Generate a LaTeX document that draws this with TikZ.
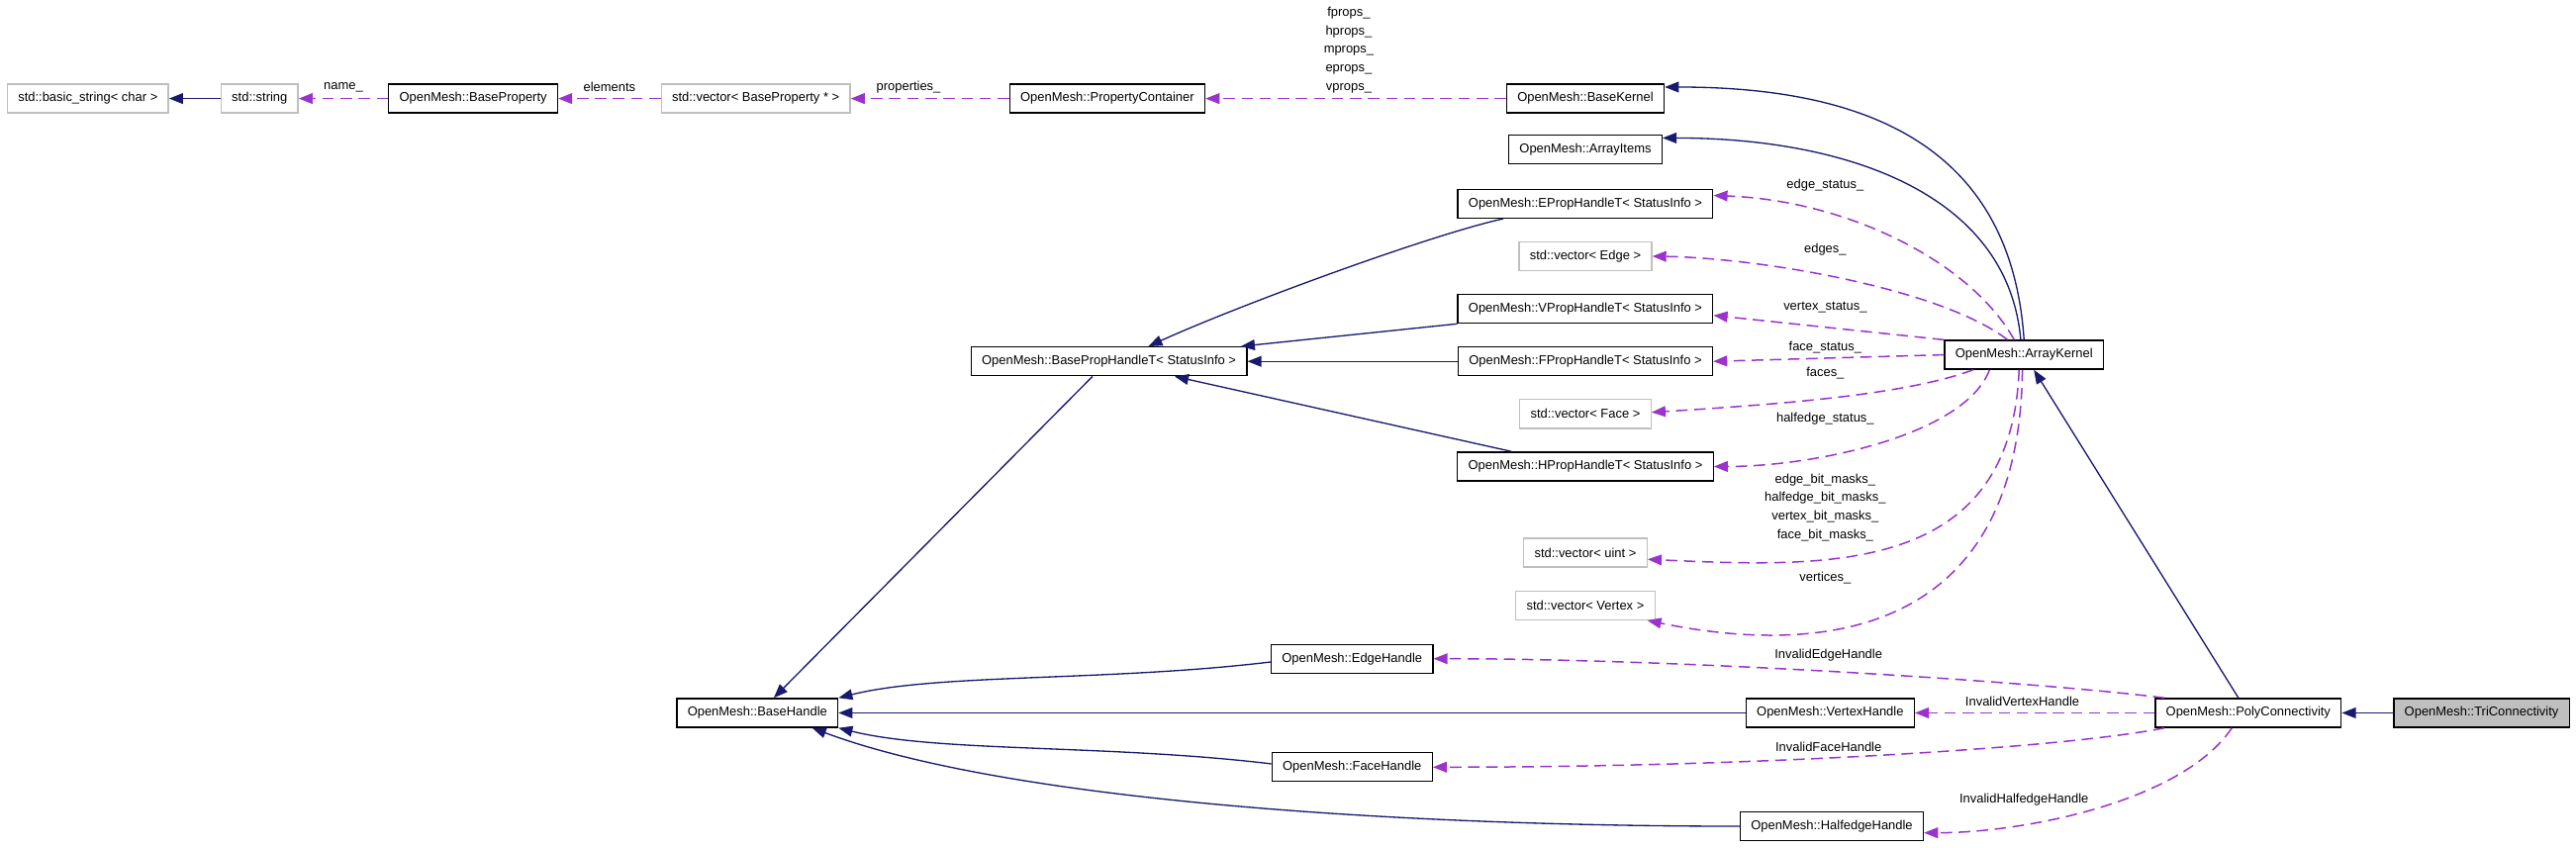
\documentclass[tikz,border=0pt]{standalone}
\usepackage{fontspec}
\setmainfont{Liberation Sans}
\usetikzlibrary{arrows.meta}
\definecolor{inhcolor}{RGB}{25,25,112}
\definecolor{usecolor}{RGB}{154,50,205}
\definecolor{extcolor}{RGB}{191,191,191}

\begin{document}
\begin{tikzpicture}[
			x=1pt, y=-1pt,
			cls/.style={
				draw=black,
				line width=0.8pt,
				fill=white,
				inner xsep=6.5pt,
				inner ysep=0pt,
				minimum height=17.5pt,
				font=\fontsize{7.8}{9.4}\selectfont
			},
			ext/.style={
				cls,
				draw=extcolor
			},
			cur/.style={
				cls,
				fill=extcolor
			},
			inherit/.style={
				-{Triangle[length=8.5pt,width=6.5pt]},
				line width=0.8pt,
				draw=inhcolor
			},
			member/.style={
				-{Triangle[length=8.5pt,width=6.5pt]},
				line width=0.9pt,
				draw=usecolor,
				dash pattern=on 7pt off 4pt
			},
			lbl/.style={
				inner sep=0pt,
				align=center,
				font=\fontsize{7.8}{11.3}\selectfont
			}
			]
			
			\useasboundingbox (0,0) rectangle (1568,516);
			
			% Top row
			\node[ext] (bstring) at (53.5,60) {std::basic\_string< char >};
			\node[ext] (stdstring) at (158,60) {std::string};
			\node[cls] (bprop) at (288,60) {OpenMesh::BaseProperty};
			\node[ext] (vecprop) at (460,60) {std::vector< BaseProperty * >};
			\node[cls] (pcont) at (674,60) {OpenMesh::PropertyContainer};
			\node[cls] (bkernel) at (965,60) {OpenMesh::BaseKernel};
			
			% Middle column
			\node[cls] (aitems) at (965,91) {OpenMesh::ArrayItems};
			\node[cls] (eprop) at (965,124) {OpenMesh::EPropHandleT< StatusInfo >};
			\node[ext] (vecedge) at (965,156) {std::vector< Edge >};
			\node[cls] (vprop) at (965,188) {OpenMesh::VPropHandleT< StatusInfo >};
			\node[cls] (fprop) at (965,220) {OpenMesh::FPropHandleT< StatusInfo >};
			\node[ext] (vecface) at (965,252) {std::vector< Face >};
			\node[cls] (hprop) at (965,284) {OpenMesh::HPropHandleT< StatusInfo >};
			\node[ext] (vecuint) at (965,336.5) {std::vector< uint >};
			\node[ext] (vecvertex) at (965,368.5) {std::vector< Vertex >};
			
			% Handles
			\node[cls] (bphandle) at (675,220) {OpenMesh::BasePropHandleT< StatusInfo >};
			\node[cls] (akernel) at (1232,216) {OpenMesh::ArrayKernel};
			\node[cls] (ehandle) at (823,401) {OpenMesh::EdgeHandle};
			\node[cls] (bhandle) at (461,434) {OpenMesh::BaseHandle};
			\node[cls] (vhandle) at (1114,434) {OpenMesh::VertexHandle};
			\node[cls] (fhandle) at (823,467) {OpenMesh::FaceHandle};
			\node[cls] (hhandle) at (1115,503) {OpenMesh::HalfedgeHandle};
			\node[cls] (polycon) at (1368.5,434) {OpenMesh::PolyConnectivity};
			\node[cur] (tricon) at (1510.5,434) {OpenMesh::TriConnectivity};
			
			% Inheritance
			\draw[inherit] (stdstring) -- (bstring);
			\draw[inherit] (akernel.north) .. controls +(-8,-120) and +(120,0) .. ([yshift=7pt]bkernel.east);
			\draw[inherit] ([xshift=-2pt]akernel.north) .. controls +(-8,-90) and +(110,0) .. ([yshift=7pt]aitems.east);
			\draw[inherit] ([xshift=-50pt]eprop.south) .. controls +(-45,10) and +(55,-25) .. ([xshift=24pt]bphandle.north);
			\draw[inherit] (vprop.south west) -- ([xshift=-4pt]bphandle.north east);
			\draw[inherit] (fprop) -- (bphandle);
			\draw[inherit] ([xshift=-45pt]hprop.north) -- ([xshift=40pt]bphandle.south);
			\draw[inherit] ([xshift=-10pt]bphandle.south) -- ([xshift=10pt]bhandle.north);
			\draw[inherit] ([yshift=-2pt]ehandle.west) .. controls +(-100,12) and +(60,-15) .. (bhandle.north east);
			\draw[inherit] (vhandle) -- (bhandle);
			\draw[inherit] ([yshift=2pt]fhandle.west) .. controls +(-100,-12) and +(60,15) .. (bhandle.south east);
			\draw[inherit] (hhandle.west) .. controls +(-200,0) and +(120,45) .. ([xshift=-16pt]bhandle.south east);
			\draw[inherit] ([xshift=-6pt]polycon.north) -- ([xshift=6pt]akernel.south);
			\draw[inherit] (tricon) -- (polycon);
			
			% Members
			\draw[member] (bprop) -- (stdstring);
			\draw[member] (vecprop) -- (bprop);
			\draw[member] (pcont) -- (vecprop);
			\draw[member] (bkernel) -- (pcont);
			\draw[member] ([xshift=-6pt]akernel.north) .. controls +(-26,-47) and +(82,3) .. ([yshift=5pt]eprop.east);
			\draw[member] ([xshift=-10pt]akernel.north) .. controls +(-42,-32) and +(63,1) .. (vecedge.east);
			\draw[member] (akernel.north west) -- ([yshift=-4pt]vprop.east);
			\draw[member] (akernel.west) -- (fprop.east);
			\draw[member] ([xshift=-31pt]akernel.south) .. controls +(-40,15) and +(80,-5) .. ([yshift=1pt]vecface.east);
			\draw[member] ([xshift=-21pt]akernel.south) .. controls +(-15,40) and +(60,0) .. (hprop.east);
			\draw[member] ([xshift=-3pt]akernel.south) .. controls +(-5,125) and +(110,5) .. ([yshift=-4pt]vecuint.east);
			\draw[member] ([xshift=-1pt]akernel.south) .. controls +(-2,175) and +(87,18) .. ([xshift=-5pt]vecvertex.south east);
			\draw[member] ([xshift=6pt]polycon.north west) .. controls +(-80,-10) and +(150,0) .. (ehandle.east);
			\draw[member] (polycon) -- (vhandle);
			\draw[member] ([xshift=6pt]polycon.south west) .. controls +(-60,12) and +(200,0) .. (fhandle.east);
			\draw[member] ([xshift=-10pt]polycon.south) .. controls +(-30,45) and +(60,0) .. ([yshift=-4pt]hhandle.east);
			
			% Member names
			\node[lbl] (lname) at (209,53) {name\_};
			\node[lbl] (lelem) at (371,53) {elements};
			\node[lbl] (lprops) at (553,53) {properties\_};
			\node[lbl] (lkprops) at (821,30.5) {fprops\_\\hprops\_\\mprops\_\\eprops\_\\vprops\_};
			\node[lbl] (lestat) at (1111,113) {edge\_status\_};
			\node[lbl] (ledges) at (1111,152) {edges\_};
			\node[lbl] (lvstat) at (1111,187) {vertex\_status\_};
			\node[lbl] (lfstat) at (1111,211.5) {face\_status\_};
			\node[lbl] (lfaces) at (1111,227) {faces\_};
			\node[lbl] (lhstat) at (1111,255) {halfedge\_status\_};
			\node[lbl] (lmasks) at (1111,309) {edge\_bit\_masks\_\\halfedge\_bit\_masks\_\\vertex\_bit\_masks\_\\face\_bit\_masks\_};
			\node[lbl] (lverts) at (1111,352) {vertices\_};
			\node[lbl] (linve) at (1113,399) {InvalidEdgeHandle};
			\node[lbl] (linvv) at (1231,427) {InvalidVertexHandle};
			\node[lbl] (linvf) at (1113,455) {InvalidFaceHandle};
			\node[lbl] (linvh) at (1232,487) {InvalidHalfedgeHandle};
			
		\end{tikzpicture}
\end{document}
